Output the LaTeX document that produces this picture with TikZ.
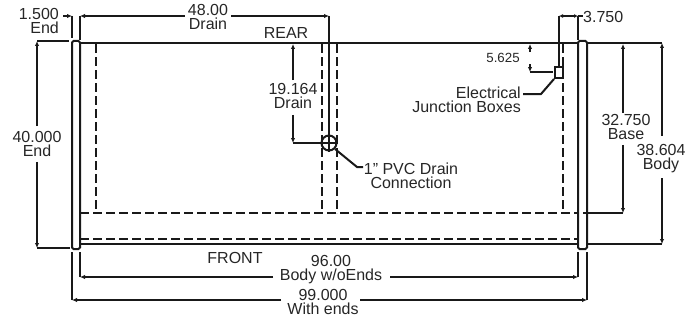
\documentclass[tikz,border=0pt]{standalone}
\usepackage{fontspec}
\setmainfont{Liberation Sans}
\usetikzlibrary{arrows.meta}
\tikzset{
  outline/.style={line width=2pt,draw=black!90},
  hidden/.style={line width=2pt,draw=black!90,dash pattern=on 9pt off 4pt},
  dimline/.style={line width=2pt,draw=black!90,-{Latex[length=5pt,width=4.5pt]}},
  leader/.style={line width=2pt,draw=black!90},
  dimtext/.style={inner sep=0pt,align=center,text=black!85,font=\fontsize{16}{14}\selectfont},
  smalltext/.style={inner sep=0pt,text=black!85,font=\fontsize{13.3}{14}\selectfont}
}
\begin{document}
\begin{tikzpicture}[x=1pt,y=-1pt]
  \useasboundingbox (0,0) rectangle (700,321);

  % points on the tank
  \coordinate (tl) at (80,43);
  \coordinate (tr) at (578,43);
  \coordinate (trr) at (587,43);
  \coordinate (bl) at (80,244);
  \coordinate (br) at (578,244);
  \coordinate (brr) at (587,244);
  \coordinate (baseL) at (80,213);
  \coordinate (baseR) at (578,213);
  \coordinate (baseRR) at (583,213);
  \coordinate (lipL) at (80,239);
  \coordinate (lipR) at (578,239);

  % points on the dimension lines
  \coordinate (endTop) at (37,41);
  \coordinate (endBot) at (37,248);
  \coordinate (endTopIn) at (69,41);
  \coordinate (endBotIn) at (70,248);
  \coordinate (drainTop) at (329,16);
  \coordinate (drainLeft) at (80,16);
  \coordinate (drainLow) at (80,40);
  \coordinate (endA) at (72,16);
  \coordinate (endB) at (72,38);
  \coordinate (endTail) at (63,16);
  \coordinate (riseTop) at (293,44);
  \coordinate (riseBot) at (293,143);
  \coordinate (boxTop) at (530,44);
  \coordinate (boxBot) at (530,72);
  \coordinate (boxIn) at (553,72);
  \coordinate (inA) at (559,16);
  \coordinate (inB) at (578,16);
  \coordinate (inTail) at (583,16);
  \coordinate (inLow) at (559,67);
  \coordinate (inEnd) at (578,40);
  \coordinate (baseTop) at (623,44);
  \coordinate (baseBot) at (623,213);
  \coordinate (bodyTop) at (662,43);
  \coordinate (bodyBot) at (662,244);
  \coordinate (w1) at (80,277);
  \coordinate (w1up) at (80,252);
  \coordinate (w2) at (578,277);
  \coordinate (w2up) at (578,252);
  \coordinate (o1) at (72,300);
  \coordinate (o1up) at (72,252);
  \coordinate (o2) at (587,300);
  \coordinate (o2up) at (587,252);

  % tank
  \draw[outline,rounded corners=1.5pt] (72,41) rectangle (80,249);
  \draw[outline,rounded corners=1.5pt] (578,41) rectangle (587,249);
  \draw[outline] (tl) -- (tr);
  \draw[outline] (trr) -- (bodyTop);
  \draw[outline] (bl) -- (br);
  \draw[outline] (brr) -- (bodyBot);
  \draw[hidden] (baseL) -- (baseR);
  \draw[hidden] (lipL) -- (lipR);
  \foreach \x in {96,322,337,563}
    \draw[hidden] (\x,44) -- (\x,213);

  % drain and junction box
  \node[circle,draw,line width=2pt,draw=black!90,minimum size=15pt,inner sep=0pt] (drain) at (329,143) {};
  \draw[outline] (drain.west) -- (drain.east);
  \draw[outline] (drain.north) -- (drain.south);
  \node[rectangle,draw,line width=2pt,draw=black!90,minimum width=8pt,minimum height=11pt,inner sep=0pt] (jbox) at (559,72.5) {};

  % labels
  \node[dimtext,align=right,anchor=east] (lblEnd) at (59,21) {1.500\\End};
  \node[dimtext] (lblDrain) at (208,17) {48.00\\Drain};
  \node[dimtext] (lblRear) at (286,33) {REAR};
  \node[dimtext] (lblRise) at (293,96) {19.164\\Drain};
  \node[dimtext] (lblTall) at (37,144) {40.000\\End};
  \node[smalltext] (lblBox) at (503,57.5) {5.625};
  \node[dimtext,align=right,anchor=east] (lblElec) at (521,99.5) {Electrical\\Junction Boxes};
  \node[dimtext] (lblPvc) at (411,176) {1” PVC Drain\\Connection};
  \node[dimtext,anchor=west] (lblIn) at (583,17) {3.750};
  \node[dimtext] (lblBase) at (626,127) {32.750\\Base};
  \node[dimtext] (lblBody) at (661,159) {38.604\\Body};
  \node[dimtext] (lblFront) at (235,258) {FRONT};
  \node[dimtext] (lblWo) at (331,270) {96.00\\Body w/oEnds};
  \node[dimtext] (lblWith) at (323,302) {99.000\\With ends};

  % dimensions
  \draw[outline] (endA) -- (endB);
  \draw[dimline] (endTail) -- (endA);
  \draw[outline] (drainLeft) -- (drainLow);
  \draw[dimline] (lblDrain.west |- drainLeft) ++(-3,0) -- (drainLeft);
  \draw[dimline] (lblDrain.east |- drainTop) ++(3,0) -- (drainTop);
  \draw[outline] (drainTop) -- (drain.center);
  \draw[dimline] (lblTall.north -| endTop) ++(0,-5) -- (endTop);
  \draw[dimline] (lblTall.south -| endBot) ++(0,5) -- (endBot);
  \draw[outline] (endTop) -- (endTopIn);
  \draw[outline] (endBot) -- (endBotIn);
  \draw[dimline] (lblRise.north -| riseTop) ++(0,-3) -- (riseTop);
  \draw[dimline] (lblRise.south -| riseBot) ++(0,6) -- (riseBot);
  \draw[outline] (riseBot) -- (drain.west);
  \draw[dimline] (530,52) -- (boxTop);
  \draw[dimline] (530,64) -- (boxBot);
  \draw[outline] (boxBot) -- (boxIn);
  \draw[{Latex[length=4pt,width=4pt]}-{Latex[length=4pt,width=4pt]},line width=2pt,draw=black!90] (inA) -- (inB);
  \draw[outline] (inB) -- (inTail);
  \draw[outline] (inA) -- (inLow);
  \draw[outline] (inB) -- (inEnd);
  \draw[dimline] (lblBase.north -| baseTop) ++(0,-1) -- (baseTop);
  \draw[dimline] (lblBase.south -| baseBot) ++(0,5) -- (baseBot);
  \draw[outline] (baseBot) -- (baseRR);
  \draw[dimline] (lblBody.north -| bodyTop) ++(0,-9) -- (bodyTop);
  \draw[dimline] (lblBody.south -| bodyBot) ++(0,5) -- (bodyBot);
  \draw[dimline] (273,277) -- (w1);
  \draw[dimline] (390,277) -- (w2);
  \draw[outline] (w1) -- (w1up);
  \draw[outline] (w2) -- (w2up);
  \draw[dimline] (281,300) -- (o1);
  \draw[dimline] (360,300) -- (o2);
  \draw[outline] (o1) -- (o1up);
  \draw[outline] (o2) -- (o2up);

  % leaders
  \draw[leader] (jbox.south west) -- (541,94) -- (523,94);
  \draw[leader] (drain.south east) -- (357,167) -- (363,167);
\end{tikzpicture}
\end{document}
